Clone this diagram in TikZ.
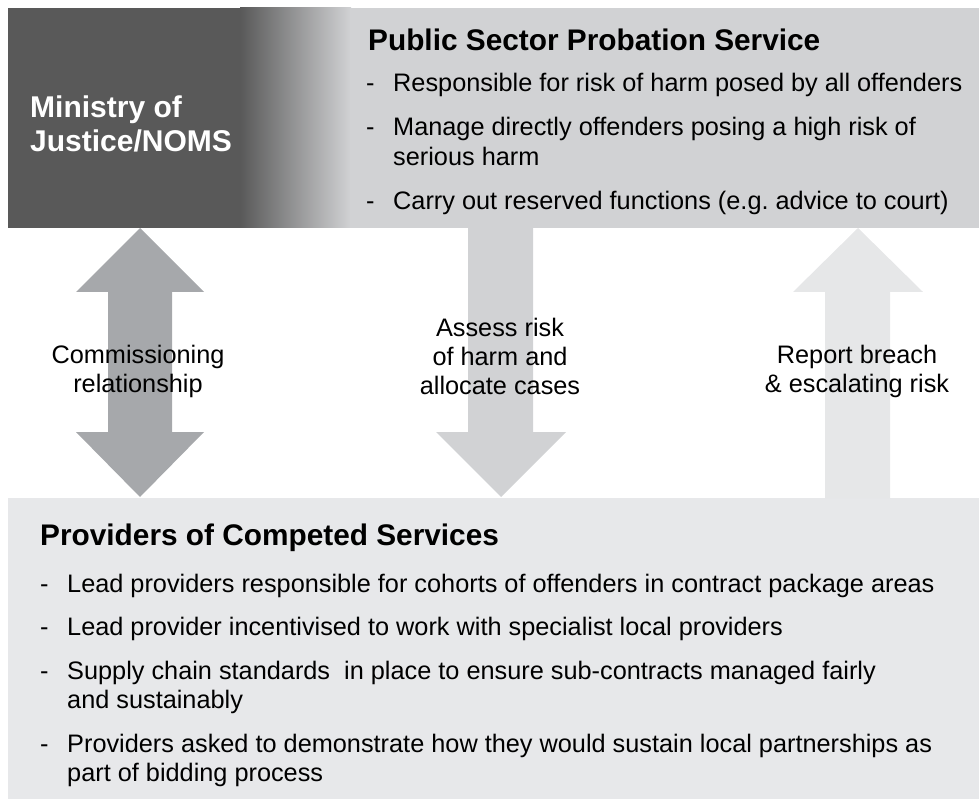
\documentclass[tikz,border=0pt]{standalone}
\usepackage{fontspec}
\setmainfont{Liberation Sans}
\frenchspacing
\definecolor{darkg}{HTML}{595959}
\definecolor{topg}{HTML}{D1D2D4}
\definecolor{botg}{HTML}{E7E8EA}
\definecolor{arrA}{HTML}{A6A8AB}
\definecolor{arrB}{HTML}{D1D2D4}
\definecolor{arrC}{HTML}{E6E7E8}
\tikzset{
  txt/.style={inner sep=0pt, anchor=base west, font=\fontsize{25.3}{29}\selectfont, text=black},
  head/.style={inner sep=0pt, anchor=base west, font=\fontsize{29.8}{34}\selectfont\bfseries, text=black},
  lbl/.style={inner sep=0pt, align=center, font=\fontsize{25.3}{29}\selectfont, text=black},
}
\begin{document}
\begin{tikzpicture}[x=1pt,y=-1pt]
\frenchspacing
\useasboundingbox (0,0) rectangle (979,799);
% top band
\fill[darkg] (8,8) rectangle (241,228);
\shade[left color=darkg, right color=topg, shading angle=90] (240,8) rectangle (351,228);
\fill[topg] (350,8) rectangle (979,228);
\node[inner sep=0pt, minimum width=971pt, minimum height=220pt, anchor=north west] (top) at (8,8) {};
% bottom band
\fill[botg] (8,498) rectangle (979,799);
\node[inner sep=0pt, minimum width=971pt, minimum height=301pt, anchor=north west] (bot) at (8,498) {};
% arrows
\fill[arrA] (140,228) -- (204,292) -- (172,292) -- (172,432) -- (204,432) -- (140,497) -- (76,432) -- (108,432) -- (108,292) -- (76,292) -- cycle;
\fill[arrB] (468,228) -- (533,228) -- (533,432) -- (566,432) -- (501,497) -- (436,432) -- (468,432) -- cycle;
\fill[arrC] (858,228) -- (923,292) -- (890,292) -- (890,498) -- (825,498) -- (825,292) -- (793,292) -- cycle;
% top texts
\node[inner sep=0pt, anchor=base west, text=white, align=left, font=\fontsize{30}{34}\selectfont\bfseries] (moj) at (30,152) {Ministry of\\Justice/NOMS};
\node[head] (psps) at (368,51) {Public Sector Probation Service};
\node[txt] (d1) at (366,92) {-};
\node[txt] (t1) at (393,92) {Responsible for risk of harm posed by all offenders};
\node[txt] (d2) at (366,136) {-};
\node[txt] (t2) at (393,136) {Manage directly offenders posing a high risk of};
\node[txt] (t2b) at (393,166) {serious harm};
\node[txt] (d3) at (366,210) {-};
\node[txt] (t3) at (393,210) {Carry out reserved functions (e.g. advice to court)};
% labels
\node[lbl] (l1) at (138,371) {Commissioning\\relationship};
\node[lbl] (l2) at (500,356) {Assess risk\\of harm and\\allocate cases};
\node[lbl] (l3) at (857,371) {Report breach\\\& escalating risk};
% bottom texts
\node[head] (pcs) at (40,545) {Providers of Competed Services};
\node[txt] (b1d) at (40,592) {-};
\node[txt] (b1) at (67,592) {Lead providers responsible for cohorts of offenders in contract package areas};
\node[txt] (b2d) at (40,635) {-};
\node[txt] (b2) at (67,635) {Lead provider incentivised to work with specialist local providers};
\node[txt] (b3d) at (40,679) {-};
\node[txt] (b3) at (67,679) {Supply chain standards\ \ in place to ensure sub-contracts managed fairly};
\node[txt] (b3b) at (67,708) {and sustainably};
\node[txt] (b4d) at (40,752) {-};
\node[txt] (b4) at (67,752) {Providers asked to demonstrate how they would sustain local partnerships as};
\node[txt] (b4b) at (67,781) {part of bidding process};
\end{tikzpicture}
\end{document}
